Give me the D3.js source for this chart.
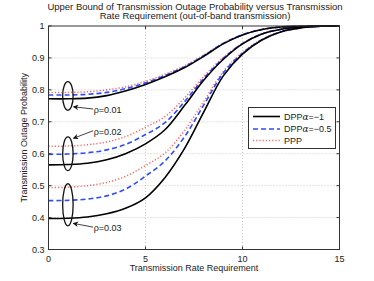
<!DOCTYPE html>
<html><head><meta charset="utf-8">
<script src="https://cdn.jsdelivr.net/npm/d3@7"></script>
<style>body{margin:0;background:#fff}svg{display:block;font-family:"Liberation Sans",Arial,sans-serif}</style>
</head><body><svg id="c" width="374" height="281"></svg>
<script>
const rates = [0,1,2,3,4,5,6,7,8,9,10,11,12,13,14,15];
// rho = 0.01
const dpp1_r1 = [0.772,0.772,0.774,0.782,0.797,0.817,0.841,0.869,0.905,0.944,0.972,0.989,0.997,0.999,1,1];
const dpp05_r1 = [0.784,0.784,0.786,0.792,0.804,0.822,0.845,0.872,0.907,0.945,0.973,0.989,0.997,0.999,1,1];
const ppp_r1 = [0.792,0.792,0.794,0.800,0.810,0.827,0.849,0.875,0.909,0.946,0.973,0.989,0.997,0.999,1,1];
// rho = 0.02
const dpp1_r2 = [0.565,0.566,0.570,0.581,0.601,0.631,0.675,0.750,0.830,0.895,0.944,0.975,0.990,0.997,0.999,1];
const dpp05_r2 = [0.598,0.599,0.603,0.612,0.630,0.660,0.697,0.762,0.836,0.898,0.945,0.975,0.990,0.997,0.999,1];
const ppp_r2 = [0.623,0.624,0.628,0.637,0.654,0.683,0.716,0.774,0.842,0.901,0.946,0.976,0.990,0.997,0.999,1];
// rho = 0.03
const dpp1_r3 = [0.397,0.398,0.402,0.412,0.430,0.462,0.525,0.615,0.730,0.843,0.912,0.956,0.982,0.994,0.999,1];
const dpp05_r3 = [0.453,0.454,0.458,0.468,0.490,0.530,0.577,0.652,0.752,0.852,0.915,0.957,0.982,0.994,0.999,1];
const ppp_r3 = [0.494,0.495,0.500,0.510,0.530,0.563,0.602,0.672,0.763,0.857,0.917,0.958,0.982,0.994,0.999,1];

const xTicks = [0,5,10,15];
const yTicks = [0.3,0.4,0.5,0.6,0.7,0.8,0.9,1];
const legendLabels = ["DPP","DPP","PPP"];
const legendAlpha = ["α=−1","α=−0.5",""];
const rhoLabels = ["ρ=0.01","ρ=0.02","ρ=0.03"];
// annotation ellipses (data coords): cx, cy, rx, ry
const ellipses = [[1,0.781,0.27,0.045],[1,0.600,0.27,0.053],[1,0.440,0.27,0.066]];
// arrows: from label (x,y) to head (x,y)
const arrows = [[2.3,0.740,1.28,0.747],[2.3,0.672,1.28,0.648],[2.3,0.370,1.27,0.382]];
const labelPos = [[2.33,0.737],[2.33,0.670],[2.33,0.368]];

const svg = d3.select("#c");
const L=48.5,R=339.5,T=26,B=249.5;
const x = d3.scaleLinear().domain([0,15]).range([L,R]);
const y = d3.scaleLinear().domain([0.3,1]).range([B,T]);

// grid
const g = svg.append("g");
g.selectAll(".gx").data(xTicks.slice(1,-1)).enter().append("line")
 .attr("x1",d=>x(d)).attr("x2",d=>x(d)).attr("y1",T).attr("y2",B)
 .attr("stroke","#bbb").attr("stroke-width",0.8).attr("stroke-dasharray","1,2");
g.selectAll(".gy").data(yTicks.slice(1,-1)).enter().append("line")
 .attr("y1",d=>y(d)).attr("y2",d=>y(d)).attr("x1",L).attr("x2",R)
 .attr("stroke","#bbb").attr("stroke-width",0.8).attr("stroke-dasharray","1,2");

// curves
const line = d3.line().x((d,i)=>x(rates[i])).y(d=>y(d)).curve(d3.curveCatmullRom.alpha(0.5));
const series = [
 [ppp_r1,"ppp"],[ppp_r2,"ppp"],[ppp_r3,"ppp"],
 [dpp05_r1,"d05"],[dpp05_r2,"d05"],[dpp05_r3,"d05"],
 [dpp1_r1,"d1"],[dpp1_r2,"d1"],[dpp1_r3,"d1"]];
const style = {
 d1:{stroke:"#000",dash:null,w:1.6},
 d05:{stroke:"#2f4cff",dash:"5,3",w:1.6},
 ppp:{stroke:"#ff6666",dash:"1.2,2",w:1.5}
};
svg.append("clipPath").attr("id","cl").append("rect").attr("x",L).attr("y",T-1).attr("width",R-L).attr("height",B-T+1);
series.forEach(([vals,k])=>{
 const s=style[k];
 svg.append("path").attr("d",line(vals)).attr("fill","none")
  .attr("stroke",s.stroke).attr("stroke-width",s.w).attr("stroke-dasharray",s.dash)
  .attr("clip-path","url(#cl)");
});

// axes box and ticks
const ax = svg.append("g").attr("fill","none").attr("stroke","#333").attr("stroke-width",1);
ax.append("rect").attr("x",L).attr("y",T).attr("width",R-L).attr("height",B-T);
xTicks.forEach(t=>{
 ax.append("line").attr("x1",x(t)).attr("x2",x(t)).attr("y1",B).attr("y2",B-3);
 ax.append("line").attr("x1",x(t)).attr("x2",x(t)).attr("y1",T).attr("y2",T+3);
});
yTicks.forEach(t=>{
 ax.append("line").attr("y1",y(t)).attr("y2",y(t)).attr("x1",L).attr("x2",L+3);
 ax.append("line").attr("y1",y(t)).attr("y2",y(t)).attr("x1",R).attr("x2",R-3);
});
const fmt = d=> d===1?"1":d3.format(".1f")(d);
svg.selectAll(".xt").data(xTicks).enter().append("text")
 .attr("x",d=>x(d)).attr("y",B+12).attr("text-anchor","middle")
 .attr("font-size",9).attr("fill","#222").text(d=>d);
svg.selectAll(".yt").data(yTicks).enter().append("text")
 .attr("x",L-4).attr("y",d=>y(d)+3.2).attr("text-anchor","end")
 .attr("font-size",9).attr("fill","#222").text(fmt);

// labels
svg.append("text").attr("x",(L+R)/2).attr("y",271).attr("text-anchor","middle")
 .attr("font-size",9).attr("fill","#222").text("Transmission Rate Requirement");
svg.append("text").attr("transform",`translate(27,${(T+B)/2}) rotate(-90)`).attr("text-anchor","middle")
 .attr("font-size",9).attr("fill","#222").text("Transmission Outage Probability");
svg.append("text").attr("x",195).attr("y",9.5).attr("text-anchor","middle")
 .attr("font-size",9.5).attr("fill","#222").text("Upper Bound of Transmission Outage Probability versus Transmission");
svg.append("text").attr("x",195).attr("y",19).attr("text-anchor","middle")
 .attr("font-size",9.5).attr("fill","#222").text("Rate Requirement (out-of-band transmission)");

// annotations
svg.append("defs").append("marker").attr("id","ah").attr("viewBox","0 0 10 10")
 .attr("refX",9).attr("refY",5).attr("markerWidth",7).attr("markerHeight",7).attr("orient","auto")
 .append("path").attr("d","M0,0 L10,5 L0,10 L3,5 Z").attr("fill","#111");
ellipses.forEach(([cx,cy,rx,ry])=>{
 svg.append("ellipse").attr("cx",x(cx)).attr("cy",y(cy))
  .attr("rx",x(cx+rx)-x(cx)).attr("ry",y(cy-ry)-y(cy))
  .attr("fill","none").attr("stroke","#111").attr("stroke-width",1.3);
});
arrows.forEach(([x1,y1,x2,y2])=>{
 svg.append("line").attr("x1",x(x1)).attr("y1",y(y1)).attr("x2",x(x2)).attr("y2",y(y2))
  .attr("stroke","#111").attr("stroke-width",0.8).attr("marker-end","url(#ah)");
});
labelPos.forEach(([lx,ly],i)=>{
 svg.append("text").attr("x",x(lx)).attr("y",y(ly)+3.2).attr("font-size",9).attr("fill","#222").text(rhoLabels[i]);
});

// legend
const lg = svg.append("g");
lg.append("rect").attr("x",248.5).attr("y",107.5).attr("width",87).attr("height",41)
 .attr("fill","#fff").attr("stroke","#333").attr("stroke-width",1);
const lk=["d1","d05","ppp"];
[116.5,129,140.5].forEach((yy,i)=>{
 const s=style[lk[i]];
 lg.append("line").attr("x1",253).attr("x2",280).attr("y1",yy).attr("y2",yy)
  .attr("stroke",s.stroke).attr("stroke-width",s.w).attr("stroke-dasharray",s.dash);
 const t=lg.append("text").attr("x",284).attr("y",yy+3.2).attr("font-size",9).attr("fill","#222");
 t.append("tspan").text(legendLabels[i]);
 if(legendAlpha[i]){
  t.append("tspan").attr("font-family","DejaVu Serif").attr("font-style","italic").text(legendAlpha[i].slice(0,1));
  t.append("tspan").text(legendAlpha[i].slice(1));
 }
});
</script></body></html>
